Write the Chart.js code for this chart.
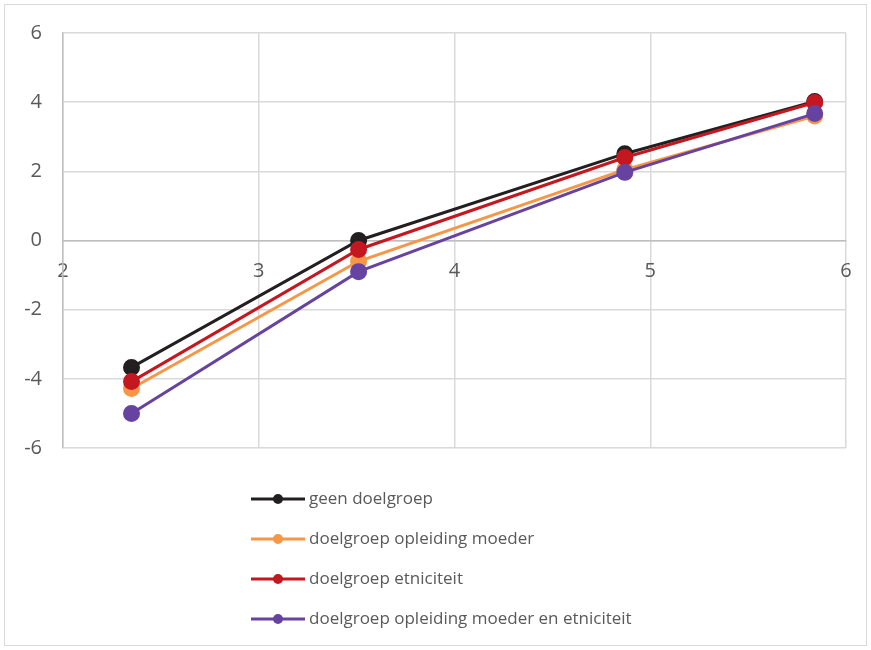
<!DOCTYPE html>
<html>
<head>
<meta charset="utf-8">
<script src="https://cdn.jsdelivr.net/npm/chart.js@4"></script>
<style>
  body { margin: 0; background: #fff; }
  canvas { display: block; }
</style>
</head>
<body>
<canvas id="grafiek" width="871" height="650"></canvas>
<script>
const xWaarden = [2.35, 3.51, 4.87, 5.84];
const geenDoelgroep = [-3.67, 0.0, 2.51, 4.02];
const opleidingMoeder = [-4.28, -0.6, 2.05, 3.6];
const etniciteit = [-4.08, -0.26, 2.4, 3.99];
const opleidingEnEtniciteit = [-5.0, -0.9, 1.97, 3.67];

const reeksNamen = [
  "geen doelgroep",
  "doelgroep opleiding moeder",
  "doelgroep etniciteit",
  "doelgroep opleiding moeder en etniciteit",
];
const reeksKleuren = ["#231f20", "#f79646", "#c4171f", "#6643a0"];
const reeksWaarden = [geenDoelgroep, opleidingMoeder, etniciteit, opleidingEnEtniciteit];

const tekstKleur = "#595959";

// legenda onder de grafiek, verticaal onder elkaar
const legendaPlugin = {
  id: "legenda",
  beforeDraw(chart) {
    const c = chart.ctx;
    c.save();
    c.strokeStyle = "#d9d9d9";
    c.lineWidth = 1;
    c.strokeRect(4.5, 4.5, 862, 641);
    c.restore();
  },
  afterDraw(chart) {
    const c = chart.ctx;
    c.save();
    c.font = "17px 'Open Sans'";
    c.textBaseline = "middle";
    chart.data.datasets.forEach((ds, i) => {
      const y = 499 + i * 40;
      c.strokeStyle = ds.borderColor;
      c.lineWidth = 3;
      c.beginPath();
      c.moveTo(251, y);
      c.lineTo(305, y);
      c.stroke();
      c.fillStyle = ds.borderColor;
      c.beginPath();
      c.arc(278, y, 5, 0, Math.PI * 2);
      c.fill();
      c.fillStyle = tekstKleur;
      c.fillText(ds.label, 309, y);
    });
    c.restore();
  },
};

new Chart(document.getElementById("grafiek"), {
  type: "scatter",
  data: {
    datasets: reeksNamen.map((naam, i) => ({
      label: naam,
      data: xWaarden.map((x, j) => ({ x: x, y: reeksWaarden[i][j] })),
      showLine: true,
      borderColor: reeksKleuren[i],
      backgroundColor: reeksKleuren[i],
      borderWidth: 3,
      pointRadius: 7,
      pointHoverRadius: 7,
      order: 3 - i,
    })),
  },
  options: {
    responsive: false,
    animation: false,
    layout: { padding: { left: 5, top: 33, right: 25, bottom: 202 } },
    plugins: {
      legend: { display: false },
      tooltip: { enabled: false },
    },
    scales: {
      x: {
        type: "linear",
        position: { y: 0 },
        min: 2,
        max: 6,
        afterFit: (scale) => { scale.height = 0; },
        grid: { color: "#d9d9d9", lineWidth: 1.5, drawTicks: false },
        border: { color: "#bfbfbf", width: 1.5 },
        ticks: {
          stepSize: 1,
          padding: 19,
          color: tekstKleur,
          font: { family: "'Open Sans'", size: 20 },
        },
      },
      y: {
        min: -6,
        max: 6,
        afterFit: (scale) => { scale.width = 58; },
        grid: { color: "#d9d9d9", lineWidth: 1.5, drawTicks: false },
        border: { color: "#bfbfbf", width: 1.5 },
        ticks: {
          stepSize: 2,
          padding: 21,
          color: tekstKleur,
          font: { family: "'Open Sans'", size: 20 },
        },
      },
    },
  },
  plugins: [legendaPlugin],
});
</script>
</body>
</html>
